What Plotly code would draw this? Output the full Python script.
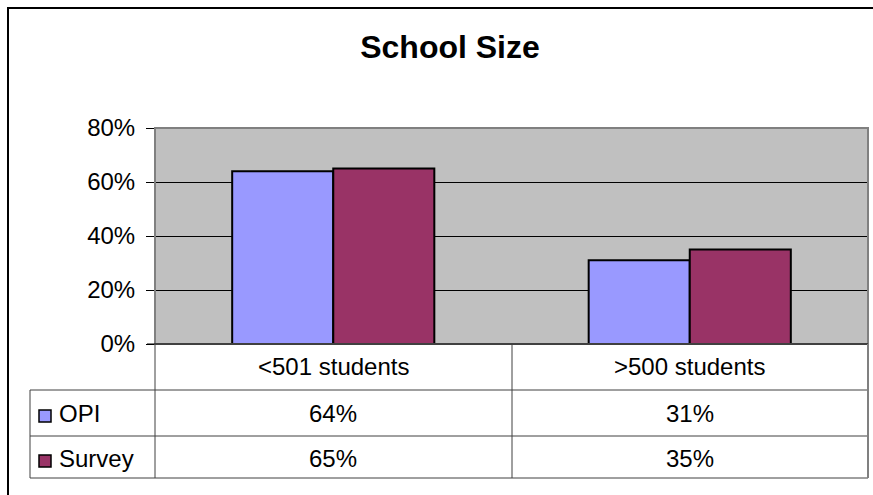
import plotly.graph_objects as go

categories = ["<501 students", ">500 students"]
series_names = ["OPI", "Survey"]
opi_values = [0.64, 0.31]
survey_values = [0.65, 0.35]
series_values = [opi_values, survey_values]
series_colors = ["#9999FF", "#993366"]
y_ticks = [0, 0.2, 0.4, 0.6, 0.8]

W, H = 873, 495
L, R, T, B = 155, 868, 128, 344
FONT = "Liberation Sans, Arial, sans-serif"
FS = 24


def px(x):
    return (x - L) / (R - L)


def py(y):
    return (B - y) / (B - T)


fig = go.Figure()
for name, vals, col in zip(series_names, series_values, series_colors):
    fig.add_trace(go.Bar(
        x=categories, y=vals, name=name,
        marker=dict(color=col, line=dict(color="black", width=2)),
        showlegend=False,
    ))

shapes = []
# plot area border (gray)
shapes.append(dict(type="rect", xref="paper", yref="paper", x0=0, x1=1, y0=0, y1=1,
                   line=dict(color="#808080", width=2), fillcolor="rgba(0,0,0,0)", layer="above"))
# x axis line
shapes.append(dict(type="line", xref="paper", yref="paper", x0=px(147), x1=1, y0=0, y1=0,
                   line=dict(color="black", width=1), layer="above"))
# table lines
tcol = "#404040"
row_lines = [390, 436, 478]
for yy in row_lines:
    shapes.append(dict(type="line", xref="paper", yref="paper", x0=px(30), x1=1,
                       y0=py(yy), y1=py(yy), line=dict(color=tcol, width=1)))
for xx, ytop in [(155, 344), (512, 344), (30, 390)]:
    shapes.append(dict(type="line", xref="paper", yref="paper", x0=px(xx), x1=px(xx),
                       y0=py(ytop), y1=py(478), line=dict(color=tcol, width=1)))
shapes.append(dict(type="line", xref="paper", yref="paper", x0=1, x1=1,
                   y0=0, y1=py(478), line=dict(color="#808080", width=2)))
# outer chart border
shapes.append(dict(type="rect", xref="paper", yref="paper", x0=px(8), x1=px(890),
                   y0=py(8), y1=py(510), line=dict(color="black", width=2),
                   fillcolor="rgba(0,0,0,0)"))

annotations = []
row_centers = [413, 458]
for cat in categories:
    annotations.append(dict(x=cat, xref="x", y=py(366), yref="paper", text=cat,
                            yanchor="middle", showarrow=False,
                            font=dict(size=FS, color="black", family=FONT)))
for i, (name, vals, col) in enumerate(zip(series_names, series_values, series_colors)):
    yc = row_centers[i]
    for cat, v in zip(categories, vals):
        annotations.append(dict(x=cat, xref="x", y=py(yc), yref="paper",
                                text=f"{round(v * 100)}%", showarrow=False,
                                yanchor="middle",
                                font=dict(size=FS, color="black", family=FONT)))
    shapes.append(dict(type="rect", xref="paper", yref="paper", x0=px(39), x1=px(51),
                       y0=py(yc - 3), y1=py(yc + 9), fillcolor=col,
                       line=dict(color="black", width=1.5)))
    annotations.append(dict(x=px(57), xref="paper", y=py(yc), yref="paper", text=name,
                            xanchor="left", yanchor="middle", showarrow=False,
                            font=dict(size=FS, color="black", family=FONT)))

fig.update_layout(
    width=W, height=H,
    margin=dict(l=L, r=W - R, t=T, b=H - B, pad=0),
    paper_bgcolor="white", plot_bgcolor="#C0C0C0",
    barmode="group", bargap=0.433, bargroupgap=0,
    title=dict(text="<b>School Size</b>", x=450 / W, xanchor="center",
               y=1 - 47 / H, yanchor="middle",
               font=dict(size=32, color="black", family=FONT)),
    xaxis=dict(showticklabels=False, showgrid=False, zeroline=False, showline=False, ticks=""),
    yaxis=dict(range=[0, 0.8], tickvals=y_ticks, tickformat=".0%",
               showgrid=True, gridcolor="black", gridwidth=1, zeroline=False,
               ticks="outside", ticklen=8, tickcolor="black", tickwidth=1,
               showline=False, ticklabelstandoff=6,
               tickfont=dict(size=FS, color="black", family=FONT)),
    shapes=shapes, annotations=annotations,
)

fig.write_html("out.html")
